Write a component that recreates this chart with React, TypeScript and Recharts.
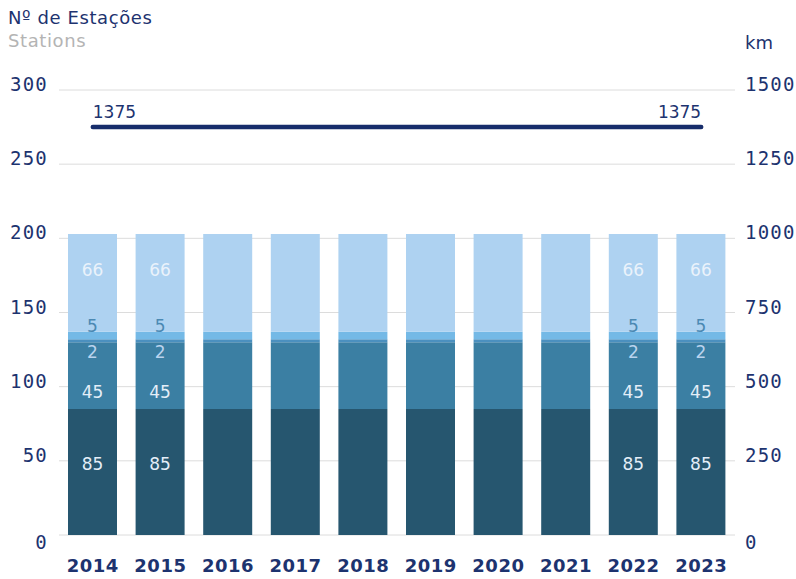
import React from 'react';
import {
  ComposedChart,
  Bar,
  Line,
  XAxis,
  YAxis,
  CartesianGrid,
  LabelList,
} from 'recharts';

const years = ['2014', '2015', '2016', '2017', '2018', '2019', '2020', '2021', '2022', '2023'];
const segA = [85, 85, 85, 85, 85, 85, 85, 85, 85, 85];
const segB = [45, 45, 45, 45, 45, 45, 45, 45, 45, 45];
const segC = [2, 2, 2, 2, 2, 2, 2, 2, 2, 2];
const segD = [5, 5, 5, 5, 5, 5, 5, 5, 5, 5];
const segE = [66, 66, 66, 66, 66, 66, 66, 66, 66, 66];
const kmValues = [1375, 1375, 1375, 1375, 1375, 1375, 1375, 1375, 1375, 1375];
const labelledYears = ['2014', '2015', '2022', '2023'];
const leftTicks = [0, 50, 100, 150, 200, 250, 300];
const rightTicks = [0, 250, 500, 750, 1000, 1250, 1500];

const data = years.map((year, i) => ({
  year,
  a: segA[i],
  b: segB[i],
  c: segC[i],
  d: segD[i],
  e: segE[i],
  km: kmValues[i],
}));

const NAVY = '#1d336f';
const TICK_FONT = '"DejaVu Sans Mono", monospace';
const LABEL_FONT = '"DejaVu Sans", sans-serif';

// builds a bar-segment label; place(y, height) returns the text's center y
const segLabel = (color: string, place: (y: number, h: number) => number) => (props: any) => {
  const { x, y, width, height, value, index } = props;
  if (!labelledYears.includes(years[index])) return null;
  return (
    <text
      x={x + width / 2}
      y={place(y, height)}
      textAnchor="middle"
      dominantBaseline="central"
      fill={color}
      fontSize={17}
      fontFamily={LABEL_FONT}
    >
      {value}
    </text>
  );
};

const lineLabel = (props: any) => {
  const { x, y, value, index } = props;
  if (index !== 0 && index !== years.length - 1) return null;
  return (
    <text
      x={x}
      y={y - 9}
      textAnchor={index === 0 ? 'start' : 'end'}
      fill={NAVY}
      fontSize={17}
      fontFamily={LABEL_FONT}
    >
      {value}
    </text>
  );
};

const YearTick = (props: any) => {
  const { x, y, payload } = props;
  return (
    <text
      x={x}
      y={y + 22}
      textAnchor="middle"
      dominantBaseline="central"
      fill={NAVY}
      fontSize={18}
      fontWeight="bold"
      letterSpacing={0.5}
      fontFamily='"DejaVu Sans", sans-serif'
    >
      {payload.value}
    </text>
  );
};

// value ticks sit a little above their gridline, the zero tick below it
const ValueTick = (anchor: 'start' | 'end') => (props: any) => {
  const { x, y, payload } = props;
  return (
    <text
      x={x}
      y={payload.value === 0 ? y + 7 : y - 6}
      textAnchor={anchor}
      dominantBaseline="central"
      fill={NAVY}
      fontSize={19}
      letterSpacing={1.2}
      fontFamily={TICK_FONT}
    >
      {payload.value}
    </text>
  );
};

export default function App() {
  return (
    <div style={{ position: 'absolute', left: 0, top: 0, width: 796, height: 579, background: '#fff' }}>
      <div style={{ position: 'absolute', left: 8, top: 6, fontFamily: LABEL_FONT, fontSize: 18, letterSpacing: 0.6, color: NAVY, lineHeight: '24px' }}>
        Nº de Estações
      </div>
      <div style={{ position: 'absolute', left: 8, top: 29, fontFamily: LABEL_FONT, fontSize: 18, letterSpacing: 0.6, color: '#b4b4b4', lineHeight: '24px' }}>
        Stations
      </div>
      <div style={{ position: 'absolute', left: 745, top: 31, fontFamily: LABEL_FONT, fontSize: 18, color: NAVY, lineHeight: '24px' }}>
        km
      </div>
      <ComposedChart
        width={796}
        height={579}
        data={data}
        margin={{ top: 90, right: 0, left: 8, bottom: 0 }}
        barSize={49}
      >
        <CartesianGrid vertical={false} stroke="#dcdcdc" yAxisId="left" />
        <XAxis
          dataKey="year"
          axisLine={false}
          tickLine={false}
          height={44}
          tick={<YearTick />}
          interval={0}
        />
        <YAxis
          yAxisId="left"
          domain={[0, 300]}
          ticks={leftTicks}
          width={51}
          axisLine={false}
          tickLine={false}
          tickMargin={5}
          tick={ValueTick('end')}
        />
        <YAxis
          yAxisId="right"
          orientation="right"
          domain={[0, 1500]}
          ticks={rightTicks}
          width={61}
          axisLine={false}
          tickLine={false}
          tickMargin={4}
          tick={ValueTick('start')}
        />
        <Bar dataKey="a" stackId="s" yAxisId="left" fill="#26566f" isAnimationActive={false}>
          <LabelList dataKey="a" content={segLabel('#e4eef8', (y) => y + 55)} />
        </Bar>
        <Bar dataKey="b" stackId="s" yAxisId="left" fill="#3b7fa3" isAnimationActive={false}>
          <LabelList dataKey="b" content={segLabel('#e4eef8', (y, h) => y + h - 17)} />
        </Bar>
        <Bar dataKey="c" stackId="s" yAxisId="left" fill="#4b90bf" isAnimationActive={false}>
          <LabelList dataKey="c" content={segLabel('#b9d3ee', (y, h) => y + h + 10)} />
        </Bar>
        <Bar dataKey="d" stackId="s" yAxisId="left" fill="#74b9e6" isAnimationActive={false}>
          <LabelList dataKey="d" content={segLabel('#4b89b3', (y) => y - 6)} />
        </Bar>
        <Bar dataKey="e" stackId="s" yAxisId="left" fill="#aed2f1" isAnimationActive={false}>
          <LabelList dataKey="e" content={segLabel('#eaf2fb', (y) => y + 36)} />
        </Bar>
        <Line
          dataKey="km"
          yAxisId="right"
          stroke="#172d6b"
          strokeWidth={4.5}
          strokeLinecap="round"
          dot={false}
          activeDot={false}
          isAnimationActive={false}
        >
          <LabelList dataKey="km" content={lineLabel} />
        </Line>
      </ComposedChart>
    </div>
  );
}
